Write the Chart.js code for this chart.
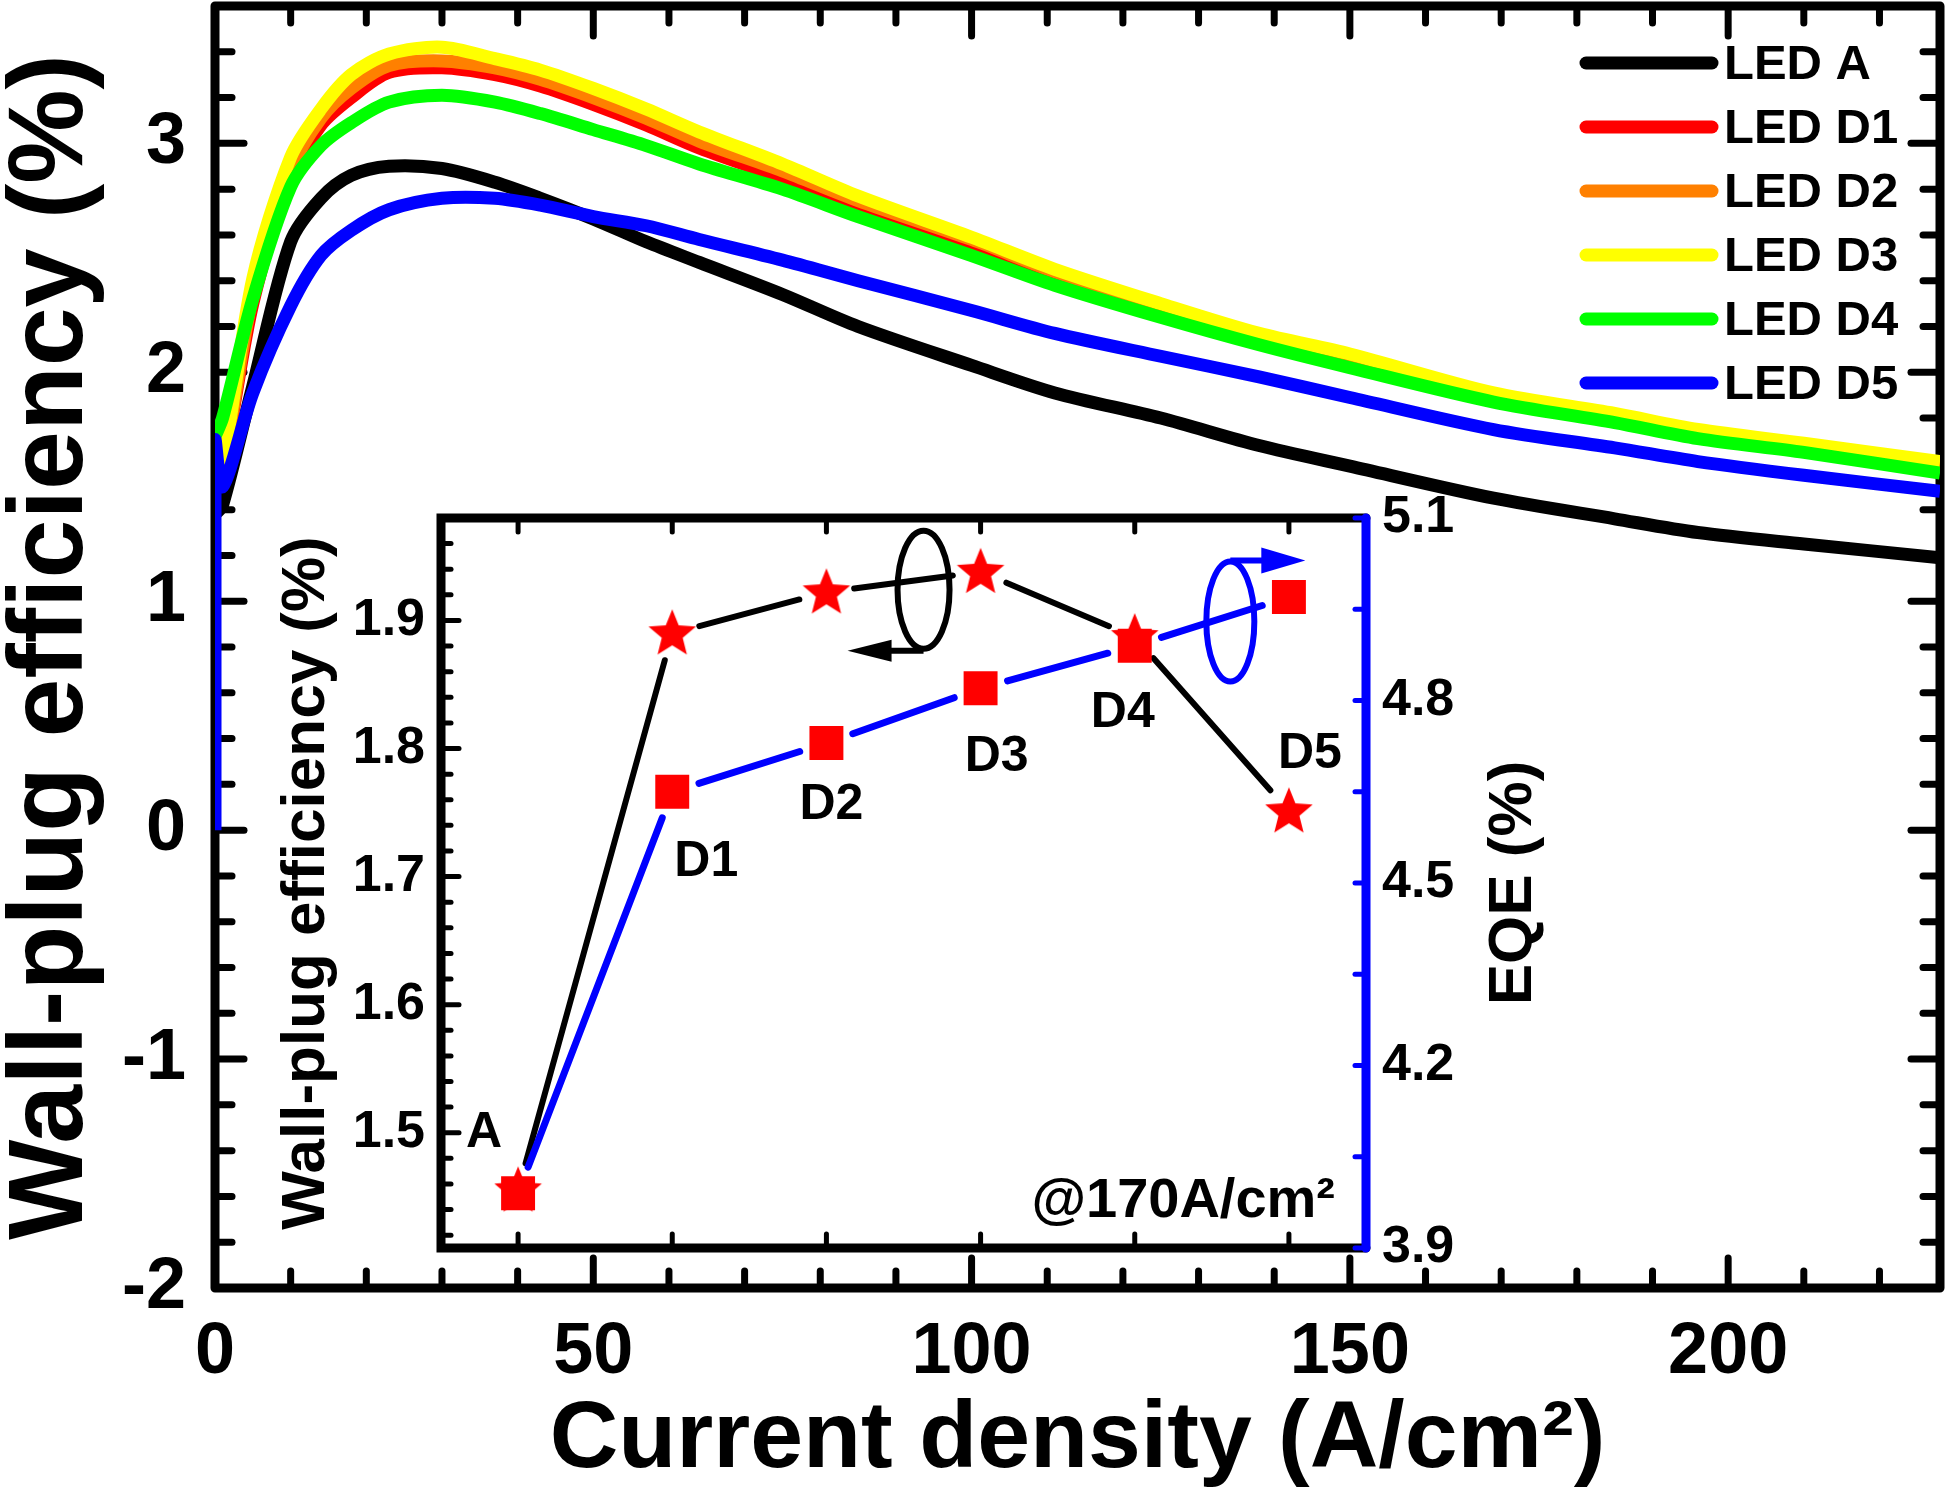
<!DOCTYPE html>
<html><head><meta charset="utf-8">
<script src="https://cdn.jsdelivr.net/npm/chart.js@4.4.1/dist/chart.umd.min.js"></script>
<style>
html,body{margin:0;padding:0;background:#fff;}
#wrap{position:relative;width:1946px;height:1500px;background:#fff;}
#main{position:absolute;left:0;top:0;}
#inset{position:absolute;left:250px;top:470px;}
</style></head><body>
<div id="wrap"><canvas id="main" width="1946" height="1500"></canvas><canvas id="inset" width="1350" height="830"></canvas></div>
<script>
// ---------------- DATA ----------------
const currentDensity = [0,1,5,10,14,18,23,30,37,43,50,57,64,75,85,100,111,125,138,150,169,185,196,210,228];
const wpeLedA  = [1.38,1.42,1.94,2.57,2.76,2.86,2.90,2.89,2.83,2.76,2.67,2.57,2.48,2.34,2.20,2.03,1.91,1.80,1.68,1.59,1.45,1.36,1.30,1.25,1.19];
const wpeLedD1 = [1.70,1.60,2.30,2.85,3.08,3.20,3.31,3.33,3.30,3.25,3.17,3.08,2.98,2.85,2.73,2.56,2.43,2.28,2.15,2.06,1.89,1.80,1.73,1.67,1.59];
const wpeLedD2 = [1.70,1.60,2.34,2.88,3.11,3.24,3.34,3.36,3.33,3.28,3.20,3.11,3.01,2.88,2.75,2.58,2.44,2.29,2.16,2.07,1.90,1.81,1.74,1.68,1.60];
const wpeLedD3 = [1.70,1.61,2.41,2.94,3.15,3.30,3.39,3.42,3.37,3.32,3.24,3.15,3.05,2.91,2.77,2.59,2.45,2.30,2.17,2.08,1.91,1.82,1.75,1.69,1.61];
const wpeLedD4 = [1.72,1.80,2.32,2.81,2.99,3.09,3.18,3.21,3.18,3.13,3.06,2.99,2.91,2.80,2.68,2.51,2.38,2.24,2.12,2.02,1.87,1.78,1.71,1.65,1.56];
const currentDensityD5 = [0,0,1,5,10,14,18,23,30,37,43,50,57,64,75,85,100,111,125,138,150,169,185,196,210,228];
const wpeLedD5 = [0,1.70,1.50,1.91,2.29,2.51,2.62,2.71,2.76,2.76,2.73,2.68,2.64,2.58,2.49,2.40,2.27,2.17,2.07,1.98,1.89,1.75,1.67,1.61,1.55,1.48];
const seriesLabels = ['LED A','LED D1','LED D2','LED D3','LED D4','LED D5'];

const xTicksMain = [0,50,100,150,200];
const yTicksMain = [-2,-1,0,1,2,3];

// inset (@170 A/cm2)
const insetSamples = ['A','D1','D2','D3','D4','D5'];
const insetWpe = [1.455,1.890,1.922,1.938,1.887,1.751];
const insetEqe = [3.99,4.65,4.73,4.82,4.89,4.97];
const insetWpeTicks = [1.5,1.6,1.7,1.8,1.9];
const insetEqeTicks = [3.9,4.2,4.5,4.8,5.1];

// ---------------- STYLE ----------------
const FONT = '"Liberation Sans", Arial, Helvetica, sans-serif';
const colors = ['#000000','#ff0000','#ff8000','#ffff00','#00ff00','#0000ff'];

function pts(xs, ys){ return xs.map((x,i)=>({x:x, y:ys[i]})); }
const mainSeries = [
  pts(currentDensity, wpeLedA), pts(currentDensity, wpeLedD1), pts(currentDensity, wpeLedD2),
  pts(currentDensity, wpeLedD3), pts(currentDensity, wpeLedD4), pts(currentDensityD5, wpeLedD5)
];

function seg(ctx,x1,y1,x2,y2){ ctx.beginPath(); ctx.moveTo(x1,y1); ctx.lineTo(x2,y2); ctx.stroke(); }
function noPad(s){ s.paddingTop=0; s.paddingBottom=0; s.paddingLeft=0; s.paddingRight=0; }

const mainFrame = {
  id:'mainFrame',
  beforeDatasetsDraw(chart){
    const {ctx, chartArea:a, scales:{x,y}} = chart;
    ctx.save();
    ctx.strokeStyle='#000'; ctx.lineCap='round'; ctx.lineWidth=7;
    for(let v=0; v<=x.max; v+=10){
      const px=x.getPixelForValue(v); const len=(v%50===0)?30:17;
      seg(ctx,px,a.bottom,px,a.bottom-len); seg(ctx,px,a.top,px,a.top+len);
    }
    for(let k=-10;k<=18;k++){
      const py=y.getPixelForValue(k/5); const len=(k%5===0)?29:17;
      seg(ctx,a.left,py,a.left+len,py); seg(ctx,a.right,py,a.right-len,py);
    }
    ctx.lineWidth=9; ctx.lineJoin='round';
    ctx.strokeRect(a.left,a.top,a.right-a.left,a.bottom-a.top);
    ctx.restore();
  }
};
const ledLegend = {
  id:'ledLegend',
  afterDatasetsDraw(chart){
    const {ctx, chartArea:a} = chart;
    ctx.save();
    chart.data.datasets.forEach((ds,i)=>{
      const yy=a.top+57+i*64;
      ctx.strokeStyle=ds.borderColor; ctx.lineWidth=13; ctx.lineCap='round';
      seg(ctx,a.right-354,yy,a.right-228,yy);
      ctx.fillStyle='#000'; ctx.font='bold 49px '+FONT; ctx.textBaseline='middle'; ctx.textAlign='left';
      ctx.fillText(ds.label,a.right-216,yy+2);
    });
    ctx.restore();
  }
};

new Chart(document.getElementById('main'),{
  type:'line',
  data:{ datasets: mainSeries.map((d,i)=>({
    label:seriesLabels[i], data:d, borderColor:colors[i], backgroundColor:colors[i],
    borderWidth:13, pointRadius:0, tension:0.3, fill:false, order:5-i,
    borderCapStyle:'butt', borderJoinStyle:'round'
  }))},
  options:{
    responsive:false, animation:false, devicePixelRatio:1, events:[],
    layout:{padding:{left:0,right:6,top:6,bottom:0}},
    plugins:{legend:{display:false},tooltip:{enabled:false}},
    scales:{
      x:{ type:'linear', min:0, max:228,
        afterBuildTicks:s=>{ s.ticks=xTicksMain.map(v=>({value:v})); },
        afterFit:s=>{ s.height=212; noPad(s); },
        grid:{display:false,drawTicks:false}, border:{display:false},
        ticks:{font:{family:FONT,size:72,weight:'bold'},color:'#000',padding:22,maxRotation:0,autoSkip:false,callback:v=>String(v)},
        title:{display:true,text:'Current density (A/cm²)',color:'#000',font:{family:FONT,size:95,weight:'bold',lineHeight:1},padding:{top:0,bottom:12}}
      },
      y:{ type:'linear', min:-2, max:3.6,
        afterBuildTicks:s=>{ s.ticks=yTicksMain.map(v=>({value:v})); },
        afterFit:s=>{ s.width=215; noPad(s); },
        grid:{display:false,drawTicks:false}, border:{display:false},
        ticks:{font:{family:FONT,size:72,weight:'bold'},color:'#000',padding:29,autoSkip:false,callback:v=>String(v)},
        title:{display:true,text:'Wall-plug efficiency (%)',color:'#000',font:{family:FONT,size:106,weight:'bold',lineHeight:1},padding:{top:0,bottom:0}}
      }
    }
  },
  plugins:[mainFrame, ledLegend]
});

// ---------------- INSET ----------------
const starImg = (()=>{
  const c=document.createElement('canvas'); c.width=c.height=52;
  const g=c.getContext('2d'); g.fillStyle='#ff0000'; g.beginPath();
  for(let i=0;i<10;i++){ const r=(i%2===0)?25:11; const an=-Math.PI/2+i*Math.PI/5; g.lineTo(26+r*Math.cos(an),27+r*Math.sin(an)); }
  g.closePath(); g.fill(); return c;
})();

const insetFrame = {
  id:'insetFrame',
  beforeDatasetsDraw(chart){
    const {ctx, chartArea:a, scales:{x,y,y2}} = chart;
    ctx.save(); ctx.lineCap='round';
    ctx.strokeStyle='#000'; ctx.lineWidth=5;
    for(let k=71;k<=99;k++){
      const py=y.getPixelForValue(k/50); const len=(k%5===0)?18:10;
      seg(ctx,a.left,py,a.left+len,py);
    }
    insetSamples.forEach((s,i)=>{ const px=x.getPixelForValue(i); seg(ctx,px,a.bottom,px,a.bottom-14); seg(ctx,px,a.top,px,a.top+14); });
    ctx.lineWidth=9;
    ctx.beginPath(); ctx.moveTo(a.right,a.top); ctx.lineTo(a.left,a.top); ctx.lineTo(a.left,a.bottom); ctx.lineTo(a.right,a.bottom); ctx.stroke();
    ctx.strokeStyle='#0000ff'; ctx.lineWidth=5;
    for(let k=0;k<=8;k++){ const py=y2.getPixelForValue(y2.min+0.15*k); seg(ctx,a.right,py,a.right-11,py); }
    ctx.lineWidth=9; seg(ctx,a.right,a.top,a.right,a.bottom);
    ctx.restore();
  }
};
const gapLines = {
  id:'gapLines',
  beforeDatasetsDraw(chart){
    const ctx=chart.ctx;
    chart.data.datasets.forEach((ds,di)=>{
      const p=chart.getDatasetMeta(di).data;
      ctx.save(); ctx.strokeStyle=ds.connectColor; ctx.lineWidth=ds.connectWidth; ctx.lineCap='round';
      for(let i=0;i<p.length-1;i++){
        const dx=p[i+1].x-p[i].x, dy=p[i+1].y-p[i].y, d=Math.hypot(dx,dy), g=28;
        if(d<=2*g) continue;
        const ux=dx/d, uy=dy/d;
        seg(ctx,p[i].x+ux*g,p[i].y+uy*g,p[i+1].x-ux*g,p[i+1].y-uy*g);
      }
      ctx.restore();
    });
  }
};
const insetNotes = {
  id:'insetNotes',
  afterDatasetsDraw(chart){
    const {ctx, chartArea:a, scales:{x,y,y2}} = chart;
    const sq=chart.getDatasetMeta(1).data, st=chart.getDatasetMeta(0).data;
    ctx.save();
    ctx.fillStyle='#000'; ctx.font='bold 50px '+FONT; ctx.textAlign='center'; ctx.textBaseline='middle';
    const off=[[-34,-62,sq],[34,68,sq],[5,60,sq],[16,67,sq],[-12,65,sq],[21,-59,st]];
    insetSamples.forEach((s,i)=>{ const [ox,oy,arr]=off[i]; ctx.fillText(s,arr[i].x+ox,arr[i].y+oy+2); });
    ctx.textAlign='right'; ctx.textBaseline='alphabetic'; ctx.font='bold 56px '+FONT;
    ctx.fillText('@170A/cm²',a.right-31,a.bottom-31);
    // black ellipse + arrow (WPE -> left axis)
    let cx=x.getPixelForValue(2.63), cy=y.getPixelForValue(1.924);
    ctx.strokeStyle='#000'; ctx.fillStyle='#000'; ctx.lineWidth=6;
    ctx.beginPath(); ctx.ellipse(cx,cy,26,59,0,0,Math.PI*2); ctx.stroke();
    seg(ctx,cx,cy+61,cx-34,cy+61);
    ctx.beginPath(); ctx.moveTo(cx-32,cy+50); ctx.lineTo(cx-32,cy+72); ctx.lineTo(cx-76,cy+61); ctx.closePath(); ctx.fill();
    // blue ellipse + arrow (EQE -> right axis)
    cx=x.getPixelForValue(4.62); cy=y2.getPixelForValue(4.93);
    ctx.strokeStyle='#0000ff'; ctx.fillStyle='#0000ff';
    ctx.beginPath(); ctx.ellipse(cx,cy,24,60,0,0,Math.PI*2); ctx.stroke();
    seg(ctx,cx,cy-61,cx+33,cy-61);
    ctx.beginPath(); ctx.moveTo(cx+31,cy-74); ctx.lineTo(cx+31,cy-48); ctx.lineTo(cx+75,cy-61); ctx.closePath(); ctx.fill();
    // right axis title
    ctx.fillStyle='#000'; ctx.font='bold 62px '+FONT; ctx.textAlign='center'; ctx.textBaseline='middle';
    ctx.translate(y2.left+148,(a.top+a.bottom)/2); ctx.rotate(-Math.PI/2); ctx.fillText('EQE (%)',0,0);
    ctx.restore();
  }
};

new Chart(document.getElementById('inset'),{
  type:'line',
  data:{ labels:insetSamples, datasets:[
    { label:'WPE', data:insetWpe, yAxisID:'y', showLine:false, pointStyle:starImg, pointRadius:24,
      backgroundColor:'#ff0000', borderColor:'#ff0000', connectColor:'#000000', connectWidth:6, order:1 },
    { label:'EQE', data:insetEqe, yAxisID:'y2', showLine:false, pointStyle:'rect', pointRadius:24,
      pointBackgroundColor:'#ff0000', pointBorderColor:'#ff0000', pointBorderWidth:0,
      backgroundColor:'#ff0000', borderColor:'#ff0000', connectColor:'#0000ff', connectWidth:7, order:0 }
  ]},
  options:{
    responsive:false, animation:false, devicePixelRatio:1, events:[],
    layout:{padding:{left:0,right:0,top:48,bottom:52}},
    plugins:{legend:{display:false},tooltip:{enabled:false}},
    scales:{
      x:{ type:'category', offset:true, display:false },
      y:{ type:'linear', position:'left', min:1.41, max:1.98,
        afterBuildTicks:s=>{ s.ticks=insetWpeTicks.map(v=>({value:v})); },
        afterFit:s=>{ s.width=191; noPad(s); },
        grid:{display:false,drawTicks:false}, border:{display:false},
        ticks:{font:{family:FONT,size:52,weight:'bold'},color:'#000',padding:16,autoSkip:false,callback:v=>v.toFixed(1)},
        title:{display:true,text:'Wall-plug efficiency (%)',color:'#000',font:{family:FONT,size:62,weight:'bold',lineHeight:1},padding:{top:26,bottom:0}}
      },
      y2:{ type:'linear', position:'right', min:3.9, max:5.1,
        afterBuildTicks:s=>{ s.ticks=insetEqeTicks.map(v=>({value:v})); },
        afterFit:s=>{ s.width=234; noPad(s); },
        grid:{display:false,drawTicks:false}, border:{display:false},
        ticks:{font:{family:FONT,size:52,weight:'bold'},color:'#000',padding:16,autoSkip:false,callback:v=>v.toFixed(1)}
      }
    }
  },
  plugins:[insetFrame, gapLines, insetNotes]
});
</script>
</body></html>
